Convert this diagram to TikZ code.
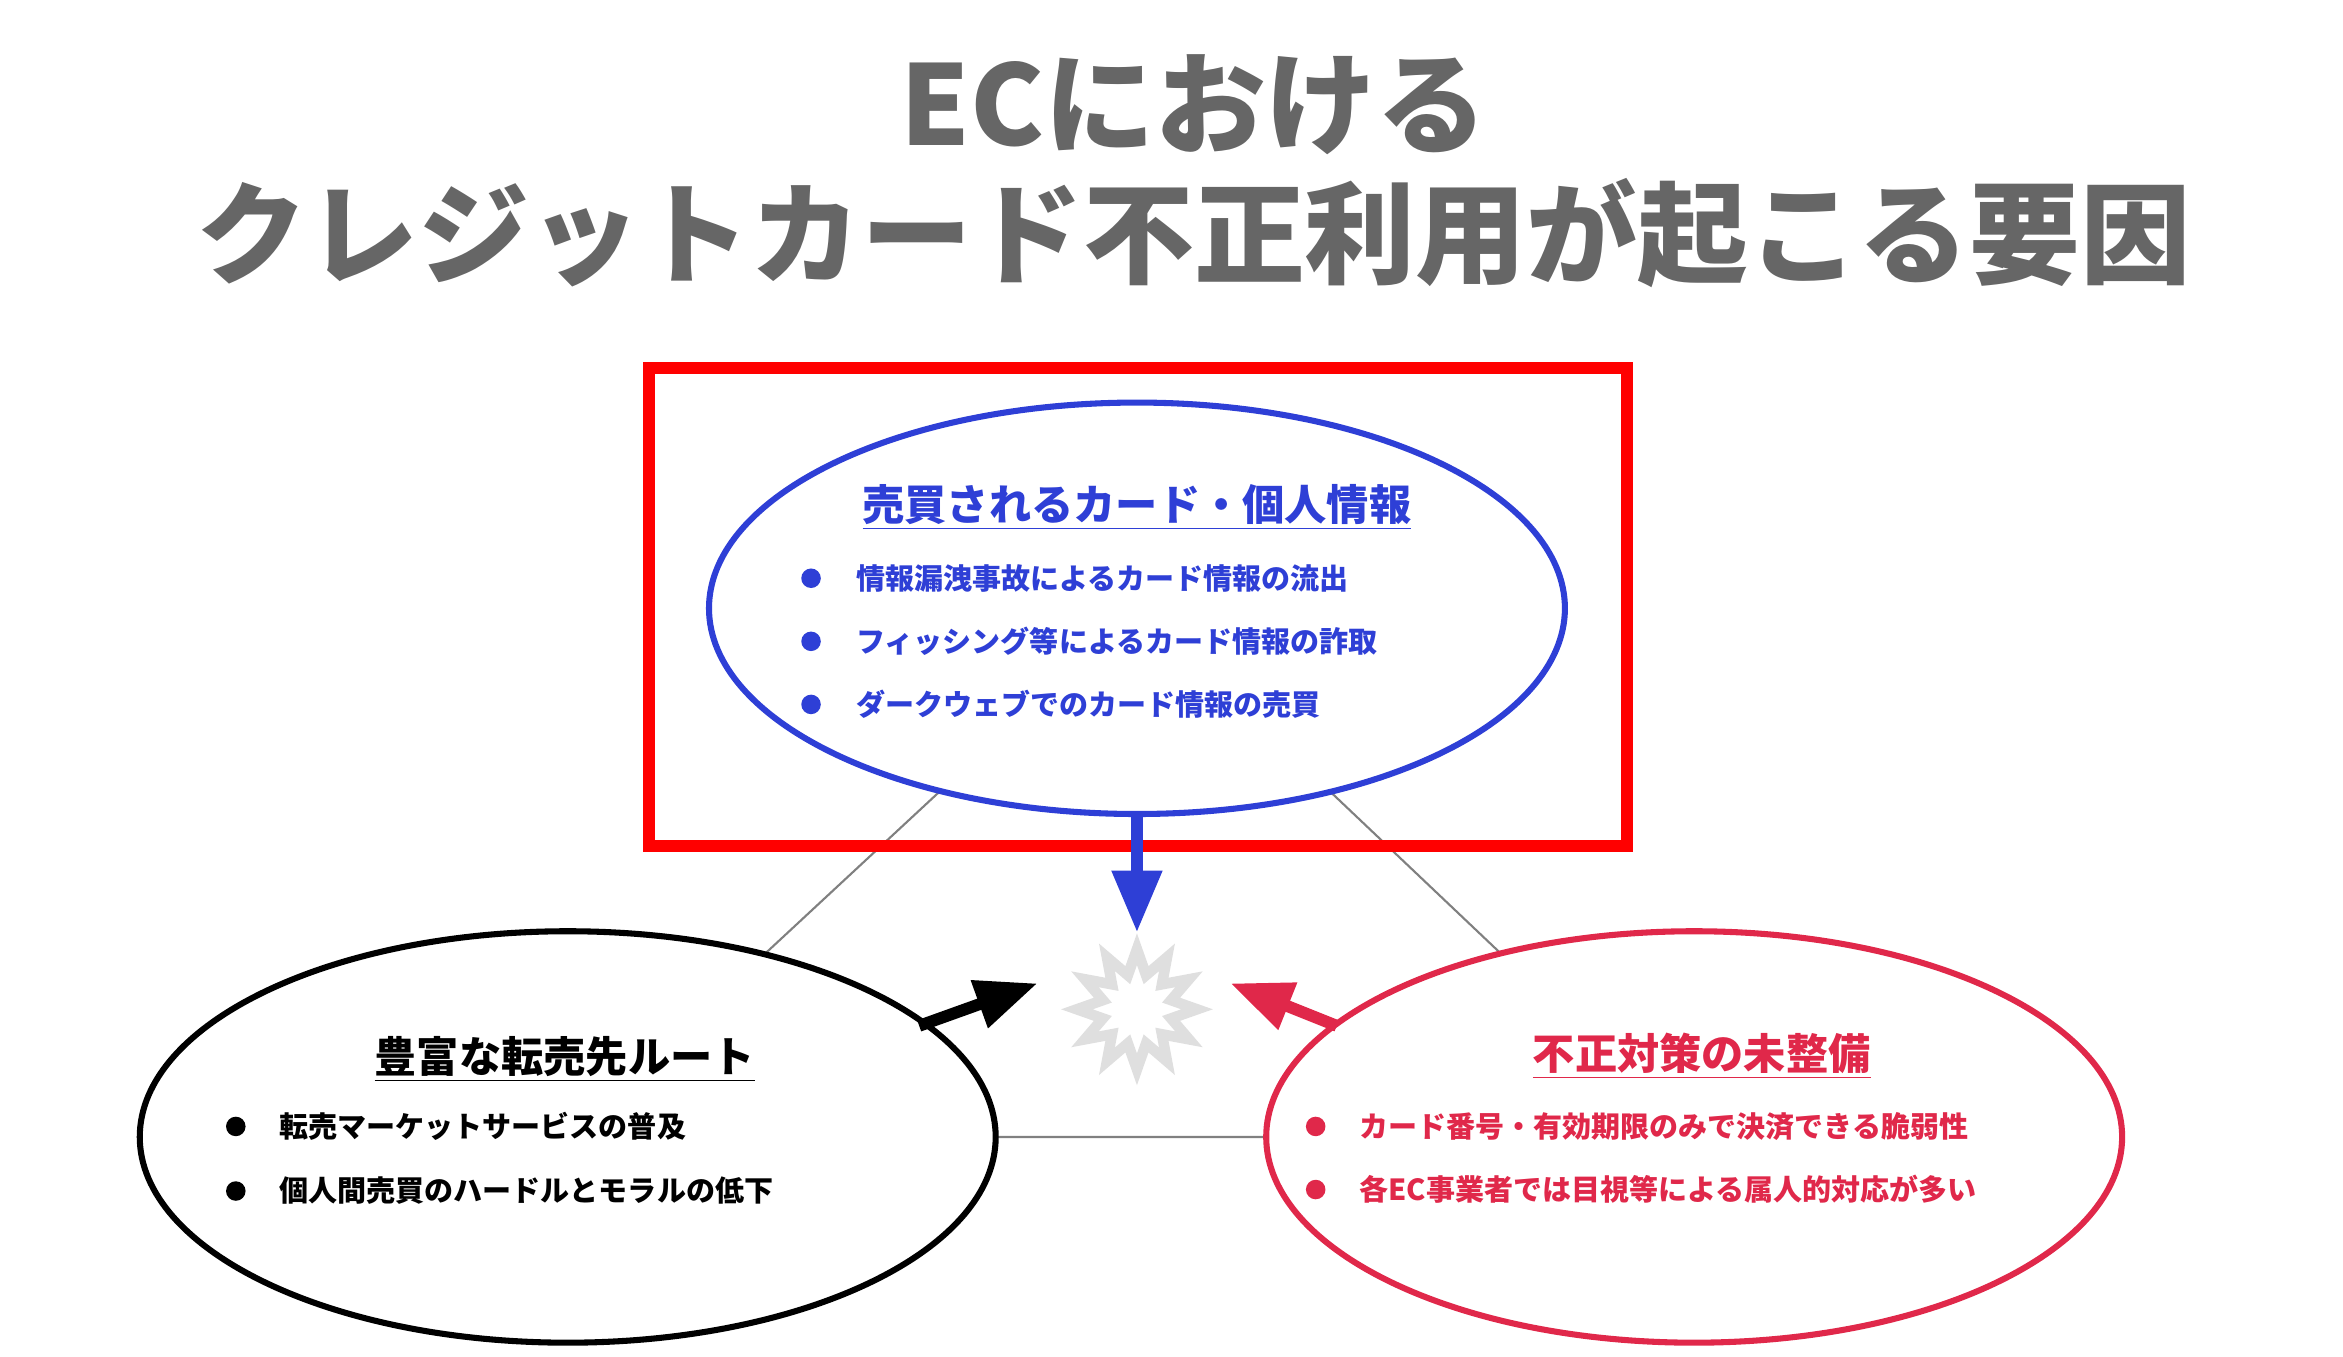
\documentclass[tikz,border=0pt]{standalone}
\usepackage{fontspec}
\newfontfamily\jp{Noto Sans CJK JP}
\usetikzlibrary{shapes,arrows}
\usetikzlibrary{shapes.geometric}
\definecolor{titlegray}{HTML}{666666}
\definecolor{cardblue}{HTML}{2E3FD6}
\definecolor{alertred}{HTML}{E0284A}
\definecolor{framered}{HTML}{FF0000}

\begin{document}
\begin{tikzpicture}[x=0.02cm,y=-0.02cm,>=triangle 45,font=\jp\bfseries]
\tikzstyle{factor} = [fill=white, ellipse, line width=2.3pt, inner sep=0pt,
    minimum width=11.4cm, minimum height=5.48cm]
\tikzstyle{heading} = [font=\jp\bfseries\fontsize{16}{18}\selectfont]
\tikzstyle{item} = [anchor=west, font=\jp\bfseries\fontsize{11}{13}\selectfont]
\tikzstyle{dot} = [circle, inner sep=0pt, minimum size=0.26cm]
\tikzstyle{push} = [->, line width=4.5pt]
    \useasboundingbox (0,0) rectangle (1560,903);
    % title
    \node[titlegray, font=\jp\bfseries\fontsize{42}{46}\selectfont] (title1) at (795,70) {ECにおける};
    \node[titlegray, font=\jp\bfseries\fontsize{42}{46}\selectfont] (title2) at (795,155) {クレジットカード不正利用が起こる要因};

    % the triangle behind the three factors
    \coordinate (ctop) at (757,405);
    \coordinate (cleft) at (378,757);
    \coordinate (cright) at (1128,757);
    \draw[gray, line width=0.8pt] (ctop) -- (cleft) -- (cright) -- cycle;

    % the three factors
    \node[factor, draw=cardblue] (cards) at (ctop) {};
    \node[factor, draw=black] (resale) at (cleft) {};
    \node[factor, draw=alertred] (defense) at (cright) {};
    \node[star, star points=12, star point ratio=1.7, draw=gray!25, fill=white,
        line width=4pt, inner sep=0pt, minimum size=1.6cm] (burst) at (757,672) {};

    % highlight frame
    \draw[framered, line width=4.5pt] (432,245) rectangle (1083,563);

    % texts of the blue factor
    \node[heading, cardblue] (cardshead) at (757,338) {\underline{売買されるカード・個人情報}};
    \foreach \y/\t in {385/情報漏洩事故によるカード情報の流出,
                       427/フィッシング等によるカード情報の詐取,
                       469/ダークウェブでのカード情報の売買} {
        \node[dot, fill=cardblue] at (540,\y) {};
        \node[item, cardblue] at (564,\y) {\t};
    }
    % texts of the black factor
    \node[heading] (resalehead) at (376,705) {\underline{豊富な転売先ルート}};
    \foreach \y/\t in {750/転売マーケットサービスの普及,
                       793/個人間売買のハードルとモラルの低下} {
        \node[dot, fill=black] at (157,\y) {};
        \node[item] at (180,\y) {\t};
    }
    % texts of the red factor
    \node[heading, alertred] (defensehead) at (1133,703) {\underline{不正対策の未整備}};
    \foreach \y/\t in {750/カード番号・有効期限のみで決済できる脆弱性,
                       792/各EC事業者では目視等による属人的対応が多い} {
        \node[dot, fill=alertred] at (876,\y) {};
        \node[item, alertred] at (899,\y) {\t};
    }

    % arrows into the burst
    \coordinate (intop) at (757,620);
    \coordinate (inleft) at (690,655);
    \coordinate (inright) at (820,655);
    \draw[push, cardblue] (cards.south) -- (intop);
    \draw[push, black] (612,683) -- (inleft);
    \draw[push, alertred] (890,683) -- (inright);
\end{tikzpicture}
\end{document}
